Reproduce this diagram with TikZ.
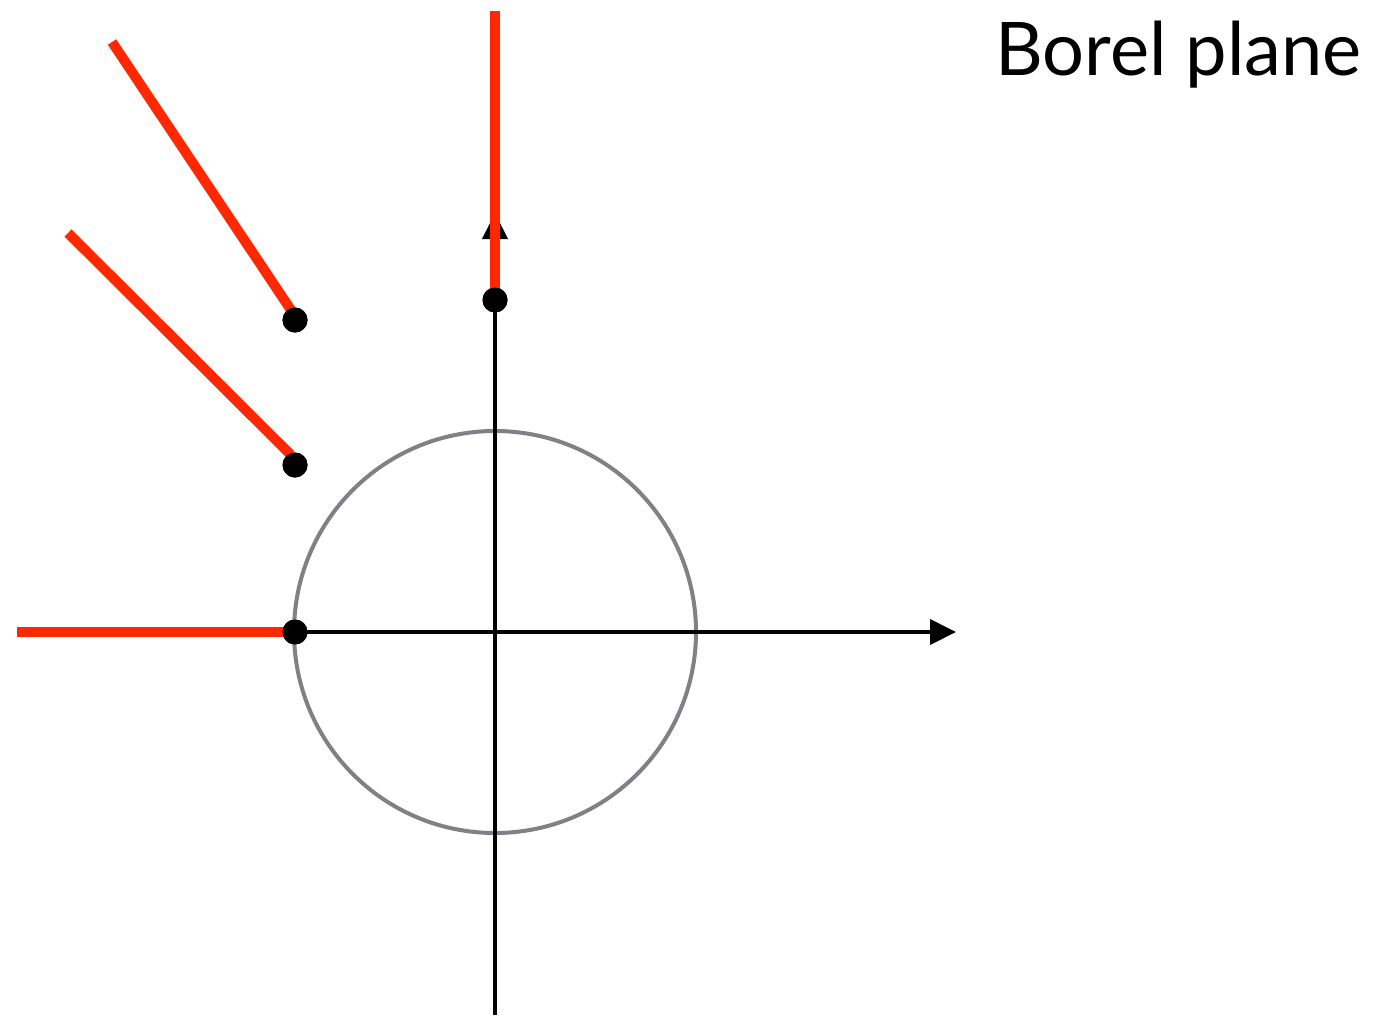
\documentclass[tikz,border=0pt]{standalone}
\usepackage{fontspec}
\setmainfont{Lato}
\usetikzlibrary{arrows.meta}
\definecolor{cutred}{RGB}{255,40,0}
\definecolor{circgray}{RGB}{128,128,133}
\begin{document}
\begin{tikzpicture}[x=1pt,y=-1pt,
  axis/.style={line width=4pt,black},
  tip/.style={-{Triangle[length=26pt,width=25pt]}},
  cut/.style={line width=10pt,cutred},
  dot/.style={circle,fill=black,inner sep=0pt,minimum size=25pt}]
\useasboundingbox (0,0) rectangle (1375,1015);
\coordinate (O) at (495,632);
\coordinate (bot) at (495,1015);
\coordinate (vtop) at (495,213);
\coordinate (hright) at (956,632);
\node[dot] (d0) at (295,632) {};
\node[dot] (d1) at (295,465) {};
\node[dot] (d2) at (295,320) {};
\node[dot] (d3) at (495,300) {};
\coordinate (e0) at (17,632);
\coordinate (e1) at (68,233);
\coordinate (e2) at (112,42);
\coordinate (e3) at (495,11);
\draw[circgray,line width=4pt] (O) circle (201);
\draw[axis,tip] (bot) -- (vtop);
\draw[axis,tip] (d0.center) -- (hright);
\draw[cut] (e0) -- (d0.center);
\draw[cut] (e1) -- (291,455);
\draw[cut] (e2) -- (291,310);
\draw[cut] (e3) -- (d3.center);
\node[dot] at (d0) {};
\node[dot] at (d1) {};
\node[dot] at (d2) {};
\node[dot] at (d3) {};
\node[anchor=base east,inner sep=0pt,font=\fontsize{74}{80}\selectfont] (title) at (1362,75) {Borel plane};
\end{tikzpicture}
\end{document}
